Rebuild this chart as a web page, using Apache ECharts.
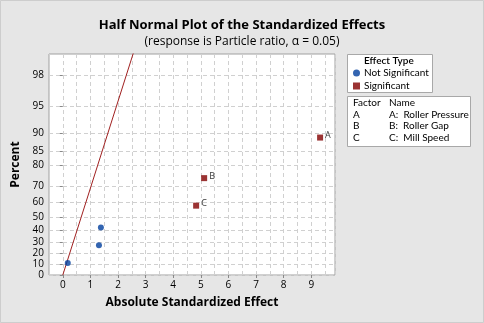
<!DOCTYPE html>
<html>
<head>
<meta charset="UTF-8">
<title></title>
<style>
  html, body { margin: 0; padding: 0; background: #e6e6e6; }
  #chart { width: 484px; height: 323px; }
</style>
<script src="https://cdn.jsdelivr.net/npm/echarts@6/dist/echarts.min.js"></script>
</head>
<body>
<div id="chart"></div>
<script>
// percent ticks on the half normal probability scale
var pctTicks = [0, 10, 20, 30, 40, 50, 60, 70, 80, 85, 90, 95, 98];
var xTicks = [0, 1, 2, 3, 4, 5, 6, 7, 8, 9];

// effects that are not significant
var nsEffect = [0.18, 1.31, 1.38];
var nsPct = [11, 27, 42];

// significant effects
var sigEffect = [9.32, 5.12, 4.83];
var sigPct = [89, 74, 58];
var sigNames = ['A', 'B', 'C'];

// fitted line (effect = pse * score)
var pse = 0.99;

var factorCodes = ['A', 'B', 'C'];
var factorNames = ['A:  Roller Pressure', 'B:  Roller Gap', 'C:  Mill Speed'];

// inverse standard normal cdf (Acklam)
function qnorm(p) {
  var a = [-39.69683028665376, 220.9460984245205, -275.9285104469687, 138.3577518672690, -30.66479806614716, 2.506628277459239];
  var b = [-54.47609879822406, 161.5858368580409, -155.6989798598866, 66.80131188771972, -13.28068155288572];
  var c = [-0.007784894002430293, -0.3223964580411365, -2.400758277161838, -2.549732539343734, 4.374664141464968, 2.938163982698783];
  var d = [0.007784695709041462, 0.3224671290700398, 2.445134137142996, 3.754408661907416];
  var pl = 0.02425, q, r;
  if (p < pl) {
    q = Math.sqrt(-2 * Math.log(p));
    return (((((c[0]*q+c[1])*q+c[2])*q+c[3])*q+c[4])*q+c[5]) / ((((d[0]*q+d[1])*q+d[2])*q+d[3])*q+1);
  }
  if (p > 1 - pl) {
    q = Math.sqrt(-2 * Math.log(1 - p));
    return -(((((c[0]*q+c[1])*q+c[2])*q+c[3])*q+c[4])*q+c[5]) / ((((d[0]*q+d[1])*q+d[2])*q+d[3])*q+1);
  }
  q = p - 0.5; r = q * q;
  return (((((a[0]*r+a[1])*r+a[2])*r+a[3])*r+a[4])*r+a[5])*q / (((((b[0]*r+b[1])*r+b[2])*r+b[3])*r+b[4])*r+1);
}
// half normal score of a percent
function hn(pct) { return pct <= 0 ? 0 : qnorm(0.5 + pct / 200); }

var zTicks = pctTicks.map(hn);
var yMax = 2.57;

var chart = echarts.init(document.getElementById('chart'));
var font = 'Open Sans';
var legFont = '10px Lato';

var graphics = [
  { type: 'rect', shape: { x: 0.5, y: 0.5, width: 483, height: 322 }, style: { fill: 'none', stroke: '#cdcdcd' }, silent: true },
  { type: 'rect', shape: { x: 347.5, y: 54.5, width: 85, height: 38 }, style: { fill: '#fff', stroke: '#a8a8a8' }, z: 0 },
  { type: 'rect', shape: { x: 347.5, y: 96.5, width: 123, height: 50 }, style: { fill: '#fff', stroke: '#a8a8a8' }, z: 0 },
  { type: 'text', x: 364, y: 56, style: { text: 'Effect Type', font: '600 ' + legFont, fill: '#000' } },
  { type: 'text', x: 353, y: 98, style: { text: 'Factor', font: legFont, fill: '#000' } },
  { type: 'text', x: 389, y: 98, style: { text: 'Name', font: legFont, fill: '#000' } }
];
factorCodes.forEach(function (f, i) {
  graphics.push({ type: 'text', x: 353, y: 109.5 + i * 11.5, style: { text: f, font: legFont, fill: '#000' } });
  graphics.push({ type: 'text', x: 389, y: 109.5 + i * 11.5, style: { text: factorNames[i], font: legFont, fill: '#000' } });
});

chart.setOption({
  backgroundColor: '#e6e6e6',
  animation: false,
  textStyle: { fontFamily: font },
  title: {
    text: 'Half Normal Plot of the Standardized Effects',
    subtext: '(response is Particle ratio, \u03b1 = 0.05)',
    left: 'center',
    top: 14,
    itemGap: 4,
    textStyle: { fontSize: 13, fontWeight: 'bold', color: '#000' },
    subtextStyle: { fontSize: 12, color: '#000' }
  },
  legend: {
    orient: 'vertical',
    left: 353,
    top: 68,
    itemWidth: 7,
    itemHeight: 7,
    itemGap: 3,
    padding: 0,
    data: ['Not Significant', 'Significant'],
    textStyle: { fontSize: 10, fontFamily: 'Lato', color: '#000', padding: [0, 0, 0, -1] }
  },
  grid: {
    left: 49, right: 149, top: 54, bottom: 48,
    show: true, backgroundColor: '#fff', borderColor: '#a0a0a0', borderWidth: 1
  },
  xAxis: [{
    type: 'value', min: -0.5, max: 9.86,
    name: 'Absolute Standardized Effect',
    nameLocation: 'middle', nameGap: 22,
    nameTextStyle: { fontSize: 12, fontWeight: 'bold', color: '#000' },
    axisLine: { show: false },
    axisTick: { show: true, length: 3, lineStyle: { color: '#888' }, customValues: xTicks },
    axisLabel: { fontSize: 10, color: '#000', margin: 5, customValues: xTicks },
    splitLine: { show: false }
  }, {
    type: 'value', min: -0.5, max: 9.86, interval: 0.5,
    axisLine: { show: false }, axisTick: { show: false }, axisLabel: { show: false },
    splitLine: { show: true, lineStyle: { color: '#d0d0d0', type: [4, 3] } }
  }],
  yAxis: {
    type: 'value', min: 0, max: yMax,
    name: 'Percent',
    nameLocation: 'middle', nameGap: 24,
    nameTextStyle: { fontSize: 12, fontWeight: 'bold', color: '#000' },
    axisLine: { show: false },
    axisTick: { show: true, length: 3, lineStyle: { color: '#888' }, customValues: zTicks },
    axisLabel: {
      fontSize: 10, color: '#000', margin: 5, customValues: zTicks,
      formatter: function (v) {
        for (var i = 0; i < zTicks.length; i++) {
          if (Math.abs(zTicks[i] - v) < 1e-6) return String(pctTicks[i]);
        }
        return '';
      }
    },
    splitLine: { show: true, lineStyle: { color: '#d0d0d0', type: [4, 3] } }
  },
  graphic: graphics,
  series: [{
    name: 'fit',
    type: 'line',
    showSymbol: false,
    silent: true,
    clip: true,
    lineStyle: { color: '#a02020', width: 1 },
    data: [[0, 0], [pse * 3, 3]],
    z: 2
  }, {
    name: 'Not Significant',
    type: 'scatter',
    symbol: 'circle',
    symbolSize: 6,
    itemStyle: { color: '#003e9e' },
    data: nsEffect.map(function (x, i) { return [x, hn(nsPct[i])]; }),
    z: 3
  }, {
    name: 'Significant',
    type: 'scatter',
    symbol: 'rect',
    symbolSize: 6,
    itemStyle: { color: '#820000' },
    label: {
      show: true, position: 'right', distance: 2, offset: [0, -2],
      fontSize: 9, color: '#000',
      formatter: function (p) { return sigNames[p.dataIndex]; }
    },
    data: sigEffect.map(function (x, i) { return [x, hn(sigPct[i])]; }),
    z: 3
  }]
});
</script>
</body>
</html>
